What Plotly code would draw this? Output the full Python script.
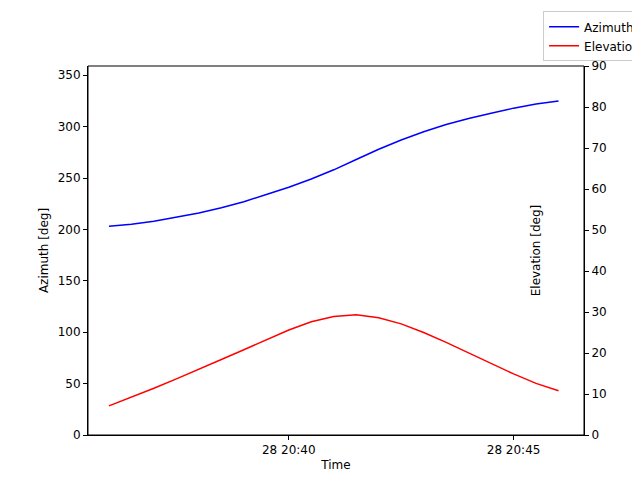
import plotly.graph_objects as go
import pandas as pd

times = pd.date_range("2024-01-28 20:36:00", "2024-01-28 20:46:00", freq="30s")
azimuth = [203, 205, 208, 212, 216, 221, 227, 234, 241, 249, 258, 268, 278, 287, 295, 302, 308, 313, 318, 322, 325]
elevation = [7.1, 9.2, 11.4, 13.7, 16.0, 18.4, 20.8, 23.2, 25.6, 27.6, 28.9, 29.3, 28.6, 27.1, 25.0, 22.6, 20.0, 17.4, 14.9, 12.6, 10.8]

fig = go.Figure()
fig.add_trace(go.Scatter(x=times, y=azimuth, mode="lines", name="Azimuth", line=dict(color="blue", width=1.5)))
fig.add_trace(go.Scatter(x=times, y=elevation, mode="lines", name="Elevation", line=dict(color="red", width=1.5), yaxis="y2"))

axstyle = dict(showgrid=False, zeroline=False, showline=True, linecolor="black", mirror=False, automargin=False,
               ticks="outside", ticklen=4, tickcolor="black", tickfont=dict(size=12, color="black"))
fig.update_layout(
    width=640, height=480, plot_bgcolor="white", paper_bgcolor="white",
    font=dict(family="DejaVu Sans", size=12, color="black"),
    margin=dict(l=80, r=64, t=58, b=53, autoexpand=False),
    xaxis=dict(**axstyle, range=["2024-01-28 20:35:32", "2024-01-28 20:46:34"],
               tickvals=["2024-01-28 20:40:00", "2024-01-28 20:45:00"], tickformat="%d %H:%M",
               title=dict(text="Time", font=dict(size=12), standoff=4)),
    yaxis=dict(**axstyle, range=[0, 359], tickvals=list(range(0, 351, 50)),
               title=dict(text="Azimuth [deg]", font=dict(size=12), standoff=6)),
    yaxis2=dict(**axstyle, range=[0, 90], tickvals=list(range(0, 91, 10)), overlaying="y", side="right",
                title=dict(text="Elevation [deg]", font=dict(size=12), standoff=6)),
    legend=dict(x=0.997, y=0.993, xref="container", yref="container", xanchor="right", yanchor="top",
                bordercolor="#cccccc", borderwidth=1, font=dict(size=12), tracegroupgap=0),
    shapes=[dict(type="rect", xref="paper", yref="paper", x0=0, x1=1, y0=0, y1=1,
                 line=dict(color="black", width=1))],
)
fig.write_html("out.html")
